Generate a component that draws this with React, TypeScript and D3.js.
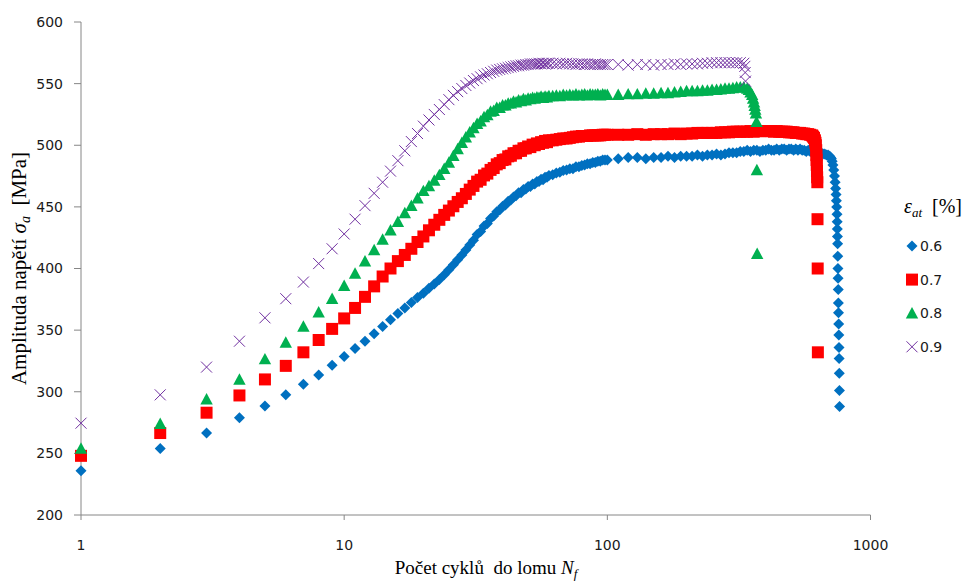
import React from "react";
import * as d3 from "d3";

// cycle grid shared by all series (every cycle early on, then sparser)
const cycles = [
  1, 2, 3, 4, 5, 6, 7, 8, 9, 10, 11, 12, 13, 14, 15, 16, 17, 18, 19, 20,
  21, 22, 23, 24, 25, 26, 27, 28, 29, 30, 31, 32, 33, 34, 35, 36, 37, 38, 39, 40,
  41, 42, 43, 44, 45, 46, 47, 48, 49, 50, 51, 52, 53, 54, 55, 56, 57, 58, 59, 60,
  62, 64, 66, 68, 70, 72, 74, 76, 78, 80, 82, 84, 86, 88, 90, 92, 94, 96, 98,
  100,
  110, 120, 130, 140, 150, 160, 170, 180, 190, 200,
  210, 220, 230, 240, 250, 260, 270, 280, 290, 300,
  310, 320, 330, 340, 350, 360, 370, 380, 390, 400,
  410, 420, 430, 440, 450, 460, 470, 480, 490, 500,
  510, 520, 530, 540, 550, 560, 570, 580, 590, 600,
  610, 620, 630, 640, 650, 660, 670, 680, 690, 700,
];

// stress amplitude [MPa], eps_at = 0.6 %
const amp06 = [
  236, 254, 266.5, 279, 288.5, 297.5, 306, 313.5, 321.5, 328.5,
  335, 341, 347, 353, 358.5, 363.5, 368, 372.5, 376.5, 380,
  384, 387.5, 391, 395, 399, 403, 407, 411, 415, 419,
  423, 427.5, 430, 434.5, 436.5, 440.5, 442.5, 446, 447.5, 450.5,
  451.5, 454.5, 455.5, 458, 459, 461.5, 461.5, 464, 464.5, 466.5,
  466.5, 468.5, 468.5, 470.5, 470.5, 472.5, 472, 474, 474, 475.5,
  476, 477.5, 478, 479.5, 480, 481, 481, 482.5, 482.5, 483.5, 484, 485, 485, 486, 486, 487, 487, 488, 488,
  488,
  489, 490, 490, 489, 490, 490, 491, 490, 491, 491,
  491, 492, 491, 492, 492, 493, 492, 493, 494, 494,
  494, 495, 495, 496, 495, 496, 496, 495, 496, 496,
  497, 496, 496, 497, 496, 497, 497, 496, 497, 497,
  496, 497, 496, 497, 496, 496, 495, 496, 495, 495,
  495, 494, 494, 494, 494, 493, 493, 492, 492, 491,
];
const tailCycles06 = [705, 710, 715, 720, 725, 730, 734, 737, 740, 742, 744, 746, 747, 748, 749, 750, 751, 752, 753, 754, 755, 756, 757, 758, 759, 760, 761, 762, 763];
const tail06 = [490, 489, 487, 484, 480, 475, 470, 465, 460, 455, 450, 444, 438, 432, 426, 420, 410, 400, 392, 383, 372, 364, 355, 346, 336, 327, 315, 301, 288];

// eps_at = 0.7 %
const amp07 = [
  248, 266.5, 283, 297, 310, 321, 332, 342, 351, 359.5,
  368, 377, 385.5, 393.5, 400, 406, 411, 416, 421.5, 426,
  431, 435.5, 439.5, 443.5, 447, 450.5, 454, 457, 460.5, 464,
  467, 470.5, 472, 475.5, 477, 480, 481.5, 484.5, 485.5, 488,
  488.5, 491, 491.5, 493.5, 493.5, 495.5, 495.5, 497.5, 497.5, 499,
  498.5, 500.5, 500, 501.5, 501, 502.5, 502, 503.5, 502.5, 504,
  504, 504.5, 505, 505.5, 505.5, 506, 506.5, 507, 507, 507.5, 507.5, 507.5, 508, 508, 508, 508, 508, 508.5, 508.5,
  508.5,
  508.5, 508.5, 509, 508.5, 509, 509, 509, 509.5, 509, 509.5,
  509.5, 510, 510, 510, 510, 510, 510.5, 510.5, 510.5, 511,
  511, 511, 511, 511, 511.5, 511, 511.5, 511.5, 511.5, 511.5,
  511.5, 511.5, 511, 511.5, 511, 511, 511, 511, 510.5, 510.5,
  510.5, 510, 510, 510, 509.5, 509.5, 509, 509, 508.5, 508,
];
const tailCycles07 = [605, 610, 615, 618, 620, 622, 623, 624, 625, 626, 627, 628, 629, 630, 631];
const tail07 = [507, 506, 504, 502, 500, 496, 492, 488, 484, 479, 474, 470, 440, 400, 332];

// eps_at = 0.8 %
const amp08 = [
  254, 274, 294, 310, 326.5, 340, 353, 364.5, 375.5, 386,
  396, 406, 415, 423.5, 431, 438, 445, 451, 457, 463,
  467, 471.5, 476, 481, 486, 491.5, 497, 502, 506.5, 510.5,
  514, 517.5, 519.5, 523, 524.5, 527.5, 528, 530.5, 530.5, 532.5,
  532.5, 534, 534, 535.5, 535, 536.5, 536, 537.5, 536.5, 538,
  537.5, 538.5, 538, 539, 538.5, 539.5, 538.5, 539.5, 539, 540,
  540, 540.5, 540, 541, 540.5, 541, 540.5, 541.5, 540.5, 541, 541.5, 540.5, 541.5, 541, 541, 541.5, 540.5, 541.5, 541,
  541,
  541, 541.5, 541.5, 542, 542, 542.5, 542.5, 543, 543.5, 544,
  544, 544, 544.5, 544.5, 545, 545, 545.5, 546, 546, 546.5,
  547, 547, 547, 546,
];
const tailCycles08 = [345, 350, 355, 358, 361, 363, 365, 367, 369, 370, 371];
const tail08 = [545, 543, 541, 538, 535, 532, 529, 526, 519, 480, 412];

// eps_at = 0.9 %
const amp09 = [
  274.5, 297.5, 320, 341, 360, 375.5, 389, 404, 416, 428,
  440, 451, 461, 470, 479, 487.5, 495.5, 503, 509.5, 515.5,
  520.5, 525, 529, 533, 537, 540.5, 543.5, 546, 548.5, 550.5,
  552.5, 554, 555.5, 557, 558, 559, 560, 561, 561.5, 562,
  562.5, 563, 563.5, 564, 564.5, 564.5, 565, 565, 565.5, 565.5,
  566, 566, 566, 566, 566.5, 566, 566.5, 566, 566.5, 566.5,
  566.5, 566, 566.5, 566, 566.5, 566, 566, 565.5, 566, 566, 565.5, 566, 565.5, 565.5, 566, 565.5, 565.5, 565.5, 565.5,
  565.5,
  565.5, 565, 565.5, 565.5, 565, 565.5, 565.5, 566, 565.5, 566,
  566, 566, 566.5, 566.5, 567, 567, 567, 567, 567, 567,
  567, 567, 566.5,
];
const tailCycles09 = [333, 334, 335];
const tail09 = [564, 559, 552];

const seriesLabels = ["0.6", "0.7", "0.8", "0.9"];
const xTicks = [1, 10, 100, 1000];
const yTicks = [200, 250, 300, 350, 400, 450, 500, 550, 600];

const W = 968;
const H = 581;
const margin = { left: 81, top: 22, right: 97.5, bottom: 66 };

const diamond = (r: number) => `M0,${-r}L${r},0L0,${r}L${-r},0Z`;
const square = (r: number) => `M${-r},${-r}H${r}V${r}H${-r}Z`;
const triangle = (r: number) => `M0,${-r}L${r},${r * 0.85}L${-r},${r * 0.85}Z`;
const cross = (r: number) => `M${-r},${-r}L${r},${r}M${r},${-r}L${-r},${r}`;

const styles = [
  { d: diamond(5.5), fill: "#0070C0", stroke: "none", sw: 0 },
  { d: square(6), fill: "#FF0000", stroke: "none", sw: 0 },
  { d: triangle(6.2), fill: "#00B050", stroke: "none", sw: 0 },
  { d: cross(5.5), fill: "none", stroke: "#7030A0", sw: 1 },
];

const build = (amp: number[], tc: number[], tv: number[]) =>
  amp.map((v, i) => [cycles[i], v] as [number, number]).concat(tc.map((c, i) => [c, tv[i]] as [number, number]));

const series = [
  build(amp06, tailCycles06, tail06),
  build(amp07, tailCycles07, tail07),
  build(amp08, tailCycles08, tail08),
  build(amp09, tailCycles09, tail09),
];

export default function App() {
  const x = d3.scaleLog().domain([1, 1000]).range([margin.left, W - margin.right]);
  const y = d3.scaleLinear().domain([200, 600]).range([H - margin.bottom, margin.top]);
  const axisColor = "#868686";
  const tickFont = "'DejaVu Sans', sans-serif";
  const serif = "'Liberation Serif', 'Times New Roman', serif";

  return (
    <svg width={W} height={H} style={{ position: "absolute", left: 0, top: 0, background: "#fff" }}>
      {/* axes */}
      <line x1={x(1)} x2={x(1)} y1={y(600)} y2={y(200)} stroke={axisColor} />
      <line x1={x(1)} x2={x(1000)} y1={y(200)} y2={y(200)} stroke={axisColor} />
      {yTicks.map((t) => (
        <g key={t}>
          <line x1={x(1) - 7} x2={x(1)} y1={y(t)} y2={y(t)} stroke={axisColor} />
          <text x={63} y={y(t)} dy="0.35em" textAnchor="end" fontFamily={tickFont} fontSize={14} fill="#1a1a1a">
            {t}
          </text>
        </g>
      ))}
      {xTicks.map((t) => (
        <g key={t}>
          <line x1={x(t)} x2={x(t)} y1={y(200)} y2={y(200) + 5} stroke={axisColor} />
          <text x={x(t)} y={545} dy="0.35em" textAnchor="middle" fontFamily={tickFont} fontSize={14} fill="#1a1a1a">
            {t}
          </text>
        </g>
      ))}

      {/* series */}
      {series.map((pts, si) => (
        <g key={si}>
          {pts.map(([c, v], i) => (
            <path
              key={i}
              d={styles[si].d}
              transform={`translate(${x(c)},${y(v)})`}
              fill={styles[si].fill}
              stroke={styles[si].stroke}
              strokeWidth={styles[si].sw}
            />
          ))}
        </g>
      ))}

      {/* axis titles */}
      <text x={486} y={574} textAnchor="middle" fontFamily={serif} fontSize={19} fill="#000">
        Počet cyklů{"\u00a0\u00a0"}do lomu{" "}
        <tspan fontStyle="italic">N</tspan>
        <tspan fontStyle="italic" fontSize={13} dy={4}>f</tspan>
      </text>
      <text
        transform={`translate(26,${(y(600) + y(200)) / 2}) rotate(-90)`}
        textAnchor="middle"
        fontFamily={serif}
        fontSize={21}
        fill="#000"
      >
        Amplituda napětí <tspan fontStyle="italic">σ</tspan>
        <tspan fontStyle="italic" fontSize={14} dy={4}>a</tspan>
        <tspan dy={-4}>{"\u00a0\u00a0"}[MPa]</tspan>
      </text>

      {/* legend */}
      <text x={904} y={213} fontFamily={serif} fontSize={20} fill="#000">
        <tspan fontStyle="italic">ε</tspan>
        <tspan fontStyle="italic" fontSize={13} dy={4}>at</tspan>
        <tspan dy={-4}>{"\u00a0\u00a0"}[%]</tspan>
      </text>
      {seriesLabels.map((lab, i) => {
        const ly = 246 + i * 33.6;
        return (
          <g key={lab}>
            <path
              d={styles[i].d}
              transform={`translate(912,${ly})`}
              fill={styles[i].fill}
              stroke={styles[i].stroke}
              strokeWidth={styles[i].sw}
            />
            <text x={920} y={ly} dy="0.35em" fontFamily={tickFont} fontSize={14} fill="#1a1a1a">
              {lab}
            </text>
          </g>
        );
      })}
    </svg>
  );
}
